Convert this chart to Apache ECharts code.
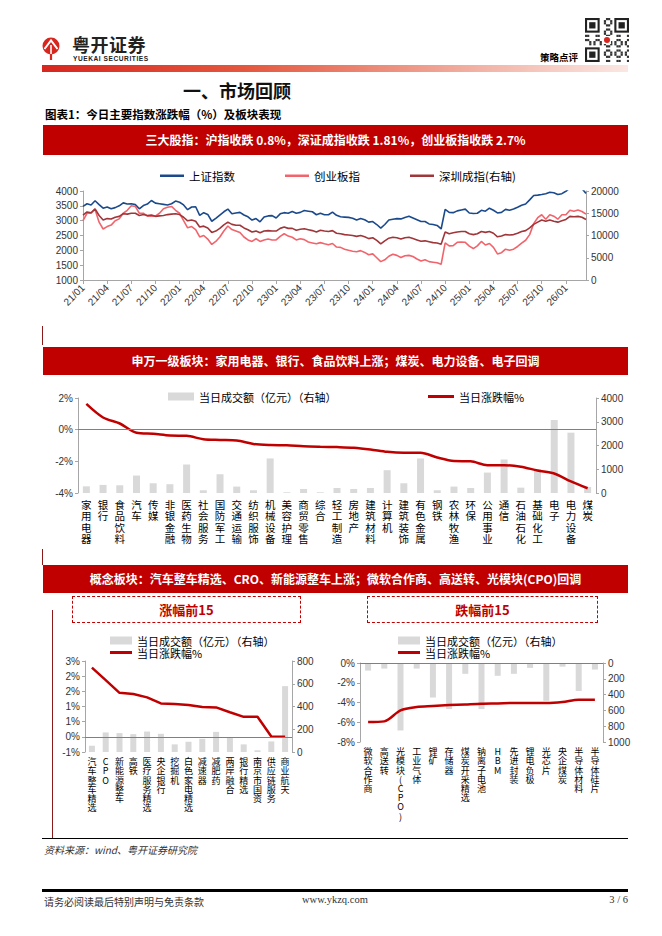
<!DOCTYPE html>
<html>
<head>
<meta charset="utf-8">
<script src="https://cdn.jsdelivr.net/npm/echarts@6/dist/echarts.min.js"></script>
<style>
  body { margin: 0; width: 662px; height: 936px; position: relative; background: #fff; overflow: hidden;
         font-family: 'Noto Sans CJK SC', 'Liberation Sans', sans-serif; color: #000; }
  .abs { position: absolute; }
  .banner { position: absolute; left: 43px; width: 585px; background: #C00000; color: #fff; font-size: 12px;
            font-weight: bold; text-align: center; }
  .box { position: absolute; height: 25px; border: 1px dashed #C00000; color: #C00000; font-size: 13px;
         font-weight: bold; text-align: center; line-height: 25px; }
  .chart { position: absolute; }
</style>
</head>
<body>

<!-- 页眉 -->
<svg class="abs" style="left:42px;top:36px" width="18" height="25" viewBox="0 0 18 25">
  <circle cx="9" cy="10" r="8.5" fill="#D7261E"/>
  <path d="M2.5 13 L9 4.5 L15.5 13" stroke="#fff" stroke-width="2" fill="none"/>
  <path d="M9 8 L9 24 M5.5 13 L12.5 13" stroke="#D7261E" stroke-width="2.2" fill="none"/>
  <path d="M9 9 L9 18" stroke="#fff" stroke-width="1.6"/>
</svg>
<div class="abs" style="left:72px;top:35px;font-size:18px;line-height:18px;font-weight:bold;color:#222;letter-spacing:0.5px">粤开证券</div>
<div class="abs" style="left:73px;top:55px;font-family:'Liberation Sans';font-size:6.6px;line-height:7px;font-weight:bold;color:#222;letter-spacing:0.55px">YUEKAI SECURITIES</div>
<div class="abs" style="left:540px;top:50px;font-size:9.5px;font-weight:bold">策略点评</div>
<svg id="qr" class="abs" style="left:585px;top:18px" width="44" height="44"></svg>
<div class="abs" style="left:42px;top:65px;width:586px;height:7px;background:linear-gradient(to right,#D7261E 0%,#E4583F 35%,#F2B3A6 75%,#FBE7E3 100%)"></div>

<div class="abs" style="left:183px;top:77px;font-size:18px;font-weight:bold;color:#111">一、市场回顾</div>
<div class="abs" style="left:45px;top:106px;font-size:11.5px;font-weight:bold">图表1：今日主要指数涨跌幅（%）及板块表现</div>

<div class="banner" style="top:125px;height:30px;line-height:30px">三大股指：沪指收跌 0.8%，深证成指收跌 1.81%，创业板指收跌 2.7%</div>
<div id="c1" class="chart" style="left:0;top:158px;width:662px;height:165px"></div>

<div class="abs" style="left:42px;top:326px;width:1px;height:19px;background:#8B1A1A"></div>
<div class="banner" style="top:347px;height:28px;line-height:28px">申万一级板块：家用电器、银行、食品饮料上涨；煤炭、电力设备、电子回调</div>
<div id="c2" class="chart" style="left:0;top:378px;width:662px;height:172px"></div>

<div class="abs" style="left:42px;top:549px;width:1px;height:16px;background:#8B1A1A"></div>
<div class="banner" style="top:565px;height:28px;line-height:28px">概念板块：汽车整车精选、CRO、新能源整车上涨；微软合作商、高送转、光模块(CPO)回调</div>

<div class="box" style="left:72px;top:596px;width:227px">涨幅前15</div>
<div class="box" style="left:367px;top:596px;width:229px">跌幅前15</div>
<div class="abs" style="left:52px;top:610px;width:1px;height:228px;background:#8B1A1A"></div>
<div id="c3" class="chart" style="left:0;top:595px;width:330px;height:240px"></div>
<div id="c4" class="chart" style="left:330px;top:595px;width:332px;height:240px"></div>

<!-- 页脚 -->
<div class="abs" style="left:42px;top:838px;width:586px;height:1px;background:#000"></div>
<div class="abs" style="left:44px;top:842px;font-size:10px;font-style:italic;color:#333">资料来源：wind、粤开证券研究院</div>
<div class="abs" style="left:42px;top:889px;width:586px;height:3px;background:#000"></div>
<div class="abs" style="left:44px;top:894px;font-size:10px;color:#333">请务必阅读最后特别声明与免责条款</div>
<div class="abs" style="left:302px;top:894px;font-size:10.5px;font-family:'Liberation Serif';color:#333">www.ykzq.com</div>
<div class="abs" style="left:600px;top:894px;width:28px;text-align:right;font-size:10.5px;font-family:'Liberation Serif';color:#333">3 / 6</div>

<script>
// ---------- 数据 ----------
// 指数走势：半月取点，2021/01 ~ 2026/03
const shIndex = [
  3480, 3570, 3530, 3670, 3540, 3420, 3460, 3400, 3440, 3500, 3600, 3560, 3570, 3540, 3400, 3510, 3560, 3680, 3590, 3570, 3550, 3530, 3570, 3660,
  3620, 3530, 3370, 3460, 3470, 3180, 3270, 3210, 2980, 3080, 3190, 3300, 3390, 3230, 3260, 3280, 3190, 3130, 3020, 3070, 2960, 3120, 3160, 3170,
  3090, 3230, 3270, 3250, 3310, 3250, 3280, 3340, 3320, 3300, 3200, 3250, 3200, 3200, 3290, 3180, 3130, 3120, 3110, 3080, 3020, 3070, 3030, 2950,
  2970, 2870, 2750, 2870, 3020, 3050, 3070, 3060, 3110, 3150, 3090, 3030, 2970, 2970, 2890, 2870, 2840, 2720, 3380, 3280, 3270, 3330, 3360, 3390,
  3260, 3240, 3250, 3350, 3320, 3420, 3350, 3260, 3280, 3380, 3350, 3390, 3450, 3520, 3560, 3700, 3850, 3860, 3880, 3910, 3960, 3940, 3880, 3910,
  3990, 4100, 4130, 4090, 4080, 3920
];
const cyIndex = [
  3000, 3250, 3250, 3380, 2950, 2720, 2800, 2850, 3000, 3060, 3250, 3350, 3500, 3480, 3250, 3250, 3150, 3150, 3150, 3250, 3400, 3450, 3480, 3350,
  3250, 3000, 2760, 2800, 2700, 2450, 2500, 2380, 2200, 2300, 2450, 2650, 2820, 2700, 2650, 2600, 2450, 2350, 2300, 2390, 2300, 2350, 2380, 2350,
  2350, 2470, 2560, 2480, 2440, 2350, 2390, 2360, 2280, 2250, 2220, 2260, 2220, 2190, 2230, 2110, 2100, 2040, 2000, 1970, 1950, 1990, 1930, 1850,
  1880, 1750, 1620, 1680, 1800, 1870, 1830, 1760, 1820, 1830, 1790, 1710, 1640, 1680, 1620, 1600, 1580, 1530, 2250, 2150, 2160, 2270, 2280, 2270,
  2140, 2060, 2150, 2300, 2180, 2230, 2100, 1880, 1920, 2040, 2000, 2040, 2130, 2240, 2340, 2530, 2900, 3100, 3200, 3050, 3200, 3150, 3050, 3200,
  3200, 3350, 3320, 3360, 3310, 3220
];
const szIndex = [
  14600, 15300, 15100, 16000, 14500, 13500, 13800, 13700, 14100, 14300, 14900, 14800, 15000, 15000, 14500, 14700, 14500, 14600, 14300, 14400, 14500, 14700, 14800, 14900,
  14700, 14100, 13300, 13500, 13200, 11900, 12100, 11700, 10700, 11000, 11600, 12400, 13000, 12500, 12300, 12300, 11700, 11300, 10800, 11000, 10600, 11000, 11100, 11000,
  11000, 11600, 11900, 11600, 11600, 11200, 11400, 11500, 11300, 11100, 10800, 11200, 11000, 10900, 11100, 10500, 10400, 10200, 10100, 10000, 9800, 10000, 9700, 9300,
  9500, 8900, 8100, 8800, 9400, 9600, 9500, 9200, 9500, 9600, 9300, 9000, 8700, 8800, 8600, 8400, 8300, 8050, 10800, 10400, 10600, 10800, 10900, 10900,
  10400, 10200, 10400, 10900, 10700, 10900, 10500, 9700, 9900, 10200, 10100, 10200, 10500, 10900, 11100, 11700, 12500, 13000, 13500, 13200, 13500, 13200, 13000, 13300,
  13600, 14300, 14200, 14300, 14100, 13600
];
const indexDates = [];
for (let y = 2021; y <= 2026; y++) {
  for (let m = 1; m <= 12; m++) {
    if (y === 2026 && m > 3) break;
    const mm = String(m).padStart(2, '0');
    indexDates.push(y + '-' + mm + '-01', y + '-' + mm + '-15');
  }
}

// 申万一级行业
const swNames = ['家用电器', '银行', '食品饮料', '汽车', '传媒', '非银金融', '医药生物', '社会服务', '国防军工', '交通运输',
  '纺织服饰', '机械设备', '美容护理', '商贸零售', '综合', '轻工制造', '房地产', '建筑材料', '计算机', '建筑装饰',
  '有色金属', '钢铁', '农林牧渔', '环保', '公用事业', '通信', '石油石化', '基础化工', '电子', '电力设备', '煤炭'];
const swChange = [1.63, 0.77, 0.39, -0.19, -0.26, -0.37, -0.39, -0.60, -0.65, -0.69,
  -0.90, -0.97, -0.99, -1.05, -1.08, -1.10, -1.14, -1.25, -1.40, -1.46,
  -1.46, -1.76, -1.98, -2.00, -2.24, -2.24, -2.34, -2.58, -2.77, -3.27, -3.70];
const swTurnover = [280, 340, 325, 735, 410, 370, 1200, 115, 790, 270,
  115, 1455, 30, 170, 30, 210, 170, 210, 960, 410,
  1455, 115, 270, 210, 860, 1410, 225, 1010, 3075, 2540, 255];

// 概念板块 涨幅前15
const upNames = ['汽车整车精选', 'CPO', '新能源整车', '高铁', '医疗服务精选', '央企银行', '挖掘机', '白色家电精选',
  '减速器', '减肥药', '两岸融合', '银行精选', '南京市国资', '供应链服务', '商业航天'];
const upChange = [2.28, 1.87, 1.45, 1.41, 1.30, 1.10, 1.08, 1.05, 0.98, 0.97, 0.81, 0.66, 0.66, 0.01, 0.00];
const upTurnover = [55, 172, 166, 157, 180, 160, 67, 90, 116, 177, 128, 67, 15, 93, 579];

// 概念板块 跌幅前15
const downNames = ['微软合作商', '高送转', '光模块(CPO)', '工业气体', '锂矿', '存储器', '煤炭开采精选', '钠离子电池',
  'HBM', '先进封装', '锂电负极', '光芯片', '央企煤炭', '半导体材料', '半导体硅片'];
const downChange = [-5.98, -5.91, -4.80, -4.46, -4.36, -4.26, -4.19, -4.12, -4.09, -4.05, -4.05, -4.05, -3.95, -3.72, -3.72];
const downTurnover = [96, 71, 854, 71, 437, 583, 137, 583, 162, 137, 62, 479, 46, 354, 83];

// ---------- 公共样式 ----------
const FONT = "'Noto Sans CJK SC', 'Liberation Sans', sans-serif";
const NUMFONT = "'Liberation Sans', sans-serif";
const RED = '#C00000';
const GREY_BAR = '#D9D9D9';
const AXIS_GREY = '#A6A6A6';
const BAR_NAME = '当日成交额（亿元）（右轴）';
const LINE_NAME = '当日涨跌幅%';

function vertical(s) {
  return s.split('').join('\n');
}

function valueAxis(min, max, interval, fmt, extra) {
  return Object.assign({
    type: 'value', min: min, max: max, interval: interval,
    axisLine: { show: true, lineStyle: { color: AXIS_GREY } },
    axisTick: { show: true, length: 3, lineStyle: { color: AXIS_GREY } },
    splitLine: { show: false },
    axisLabel: { formatter: fmt, fontSize: 10, color: '#333', fontFamily: NUMFONT, margin: 5 }
  }, extra || {});
}

function zeroLine() {
  return {
    silent: true, symbol: ['none', 'none'], label: { show: false },
    lineStyle: { color: '#808080', width: 1, type: 'solid' },
    data: [{ yAxis: 0 }]
  };
}

const plainNum = v => String(v);

// ---------- 图1：指数走势 ----------
function drawIndexChart(elementId) {
  let myChart = echarts.init(document.getElementById(elementId), null, { renderer: 'svg' });
  const isQuarterStart = (i, v) => v.slice(8) === '01' && ['01', '04', '07', '10'].indexOf(v.slice(5, 7)) >= 0;
  let option = {
    animation: false,
    textStyle: { fontFamily: FONT },
    legend: {
      left: 155, top: 7, itemWidth: 24, itemHeight: 2.5, itemGap: 50, icon: 'rect',
      textStyle: { fontSize: 11.5, color: '#000', fontFamily: FONT },
      data: ['上证指数', '创业板指', '深圳成指(右轴)']
    },
    grid: { left: 83, right: 76, top: 33, height: 89 },
    xAxis: {
      type: 'category', data: indexDates, boundaryGap: false,
      axisLine: { lineStyle: { color: AXIS_GREY } },
      axisTick: { interval: isQuarterStart, length: 4, lineStyle: { color: AXIS_GREY } },
      axisLabel: {
        interval: isQuarterStart, rotate: 45, fontSize: 10, color: '#333', fontFamily: NUMFONT, margin: 6,
        formatter: v => v.slice(2, 4) + '/' + v.slice(5, 7)
      }
    },
    yAxis: [
      valueAxis(1000, 4000, 500, plainNum),
      valueAxis(0, 20000, 5000, plainNum)
    ],
    series: [
      { name: '上证指数', type: 'line', yAxisIndex: 0, data: shIndex, symbol: 'none', clip: true,
        lineStyle: { color: '#1B4A8C', width: 1.6 }, itemStyle: { color: '#1B4A8C' } },
      { name: '创业板指', type: 'line', yAxisIndex: 0, data: cyIndex, symbol: 'none', clip: true,
        lineStyle: { color: '#F2646C', width: 1.6 }, itemStyle: { color: '#F2646C' } },
      { name: '深圳成指(右轴)', type: 'line', yAxisIndex: 1, data: szIndex, symbol: 'none', clip: true,
        lineStyle: { color: '#A0363A', width: 1.6 }, itemStyle: { color: '#A0363A' } }
    ]
  };
  myChart.setOption(option);
}

// ---------- 柱线组合图 ----------
function drawComboChart(elementId, cfg) {
  let myChart = echarts.init(document.getElementById(elementId), null, { renderer: 'svg' });
  const legendText = { fontSize: 11, color: '#000', fontFamily: FONT };
  let option = {
    animation: false,
    textStyle: { fontFamily: FONT },
    legend: [
      Object.assign({ icon: 'rect', itemWidth: cfg.iconWidth, itemHeight: 8, textStyle: legendText,
        data: [BAR_NAME] }, cfg.barLegend),
      Object.assign({ icon: 'rect', itemWidth: cfg.iconWidth, itemHeight: 3, textStyle: legendText,
        data: [LINE_NAME] }, cfg.lineLegend)
    ],
    grid: cfg.grid,
    xAxis: {
      type: 'category', data: cfg.names,
      axisLine: { show: false }, axisTick: { show: false },
      axisLabel: {
        interval: 0, formatter: vertical, fontSize: cfg.labelSize, lineHeight: cfg.labelLine,
        color: '#000', margin: cfg.labelMargin, fontFamily: FONT
      }
    },
    yAxis: [cfg.leftAxis, cfg.rightAxis],
    series: [
      { name: BAR_NAME, type: 'bar', yAxisIndex: 1, data: cfg.turnover, barWidth: cfg.barWidth,
        itemStyle: { color: GREY_BAR } },
      { name: LINE_NAME, type: 'line', yAxisIndex: 0, data: cfg.change, symbol: 'none', smooth: cfg.smooth,
        lineStyle: { color: RED, width: 2.5 }, itemStyle: { color: RED }, markLine: zeroLine() }
    ]
  };
  myChart.setOption(option);
}

const roundPct = v => {
  const r = Math.sign(v) * Math.round(Math.abs(v));
  return (r === 0 ? 0 : r) + '%';
};

drawIndexChart('c1');

drawComboChart('c2', {
  names: swNames, change: swChange, turnover: swTurnover, iconWidth: 26,
  barLegend: { left: 163, top: 8 },
  lineLegend: { left: 423, top: 8 },
  grid: { left: 78, right: 66, top: 20, height: 95 },
  leftAxis: valueAxis(-4, 2, 2, '{value}%'),
  rightAxis: valueAxis(0, 4000, 1000, plainNum),
  labelSize: 10.5, labelLine: 11.3, labelMargin: 6, barWidth: 7, smooth: 0.3
});

drawComboChart('c3', {
  names: upNames, change: upChange, turnover: upTurnover, iconWidth: 22,
  barLegend: { left: 105, top: 35 },
  lineLegend: { left: 105, top: 47 },
  grid: { left: 85, right: 38, top: 66, height: 91 },
  leftAxis: valueAxis(-0.5, 2.5, 0.5, roundPct),
  rightAxis: valueAxis(0, 800, 200, plainNum),
  labelSize: 9, labelLine: 9.2, labelMargin: 5, barWidth: 6, smooth: false
});

drawComboChart('c4', {
  names: downNames, change: downChange, turnover: downTurnover, iconWidth: 22,
  barLegend: { left: 63, top: 35 },
  lineLegend: { left: 63, top: 47 },
  grid: { left: 30, right: 59, top: 68, height: 79 },
  leftAxis: valueAxis(-8, 0, 2, '{value}%'),
  rightAxis: valueAxis(0, 1000, 200, plainNum, { inverse: true }),
  labelSize: 9, labelLine: 9.2, labelMargin: 5, barWidth: 6, smooth: 0.3
});

// 二维码装饰
(function drawQr() {
  const svg = document.getElementById('qr');
  const n = 21, s = 44 / n;
  let html = '<rect width="44" height="44" fill="#fff"/>';
  const finder = (x, y) => {
    html += `<rect x="${x * s}" y="${y * s}" width="${7 * s}" height="${7 * s}" fill="#222"/>` +
      `<rect x="${(x + 1) * s}" y="${(y + 1) * s}" width="${5 * s}" height="${5 * s}" fill="#fff"/>` +
      `<rect x="${(x + 2) * s}" y="${(y + 2) * s}" width="${3 * s}" height="${3 * s}" fill="#222"/>`;
  };
  for (let i = 0; i < n; i++) {
    for (let j = 0; j < n; j++) {
      const inFinder = (i < 8 && j < 8) || (i < 8 && j > 12) || (i > 12 && j < 8);
      if (!inFinder && ((i * 7 + j * 11 + i * j) % 5 < 2)) {
        html += `<rect x="${j * s}" y="${i * s}" width="${s + 0.1}" height="${s + 0.1}" fill="#333"/>`;
      }
    }
  }
  finder(0, 0); finder(14, 0); finder(0, 14);
  html += `<rect x="18" y="18" width="8" height="8" fill="#fff"/><circle cx="22" cy="22" r="3" fill="#D7261E"/>`;
  svg.innerHTML = html;
})();
</script>
</body>
</html>
